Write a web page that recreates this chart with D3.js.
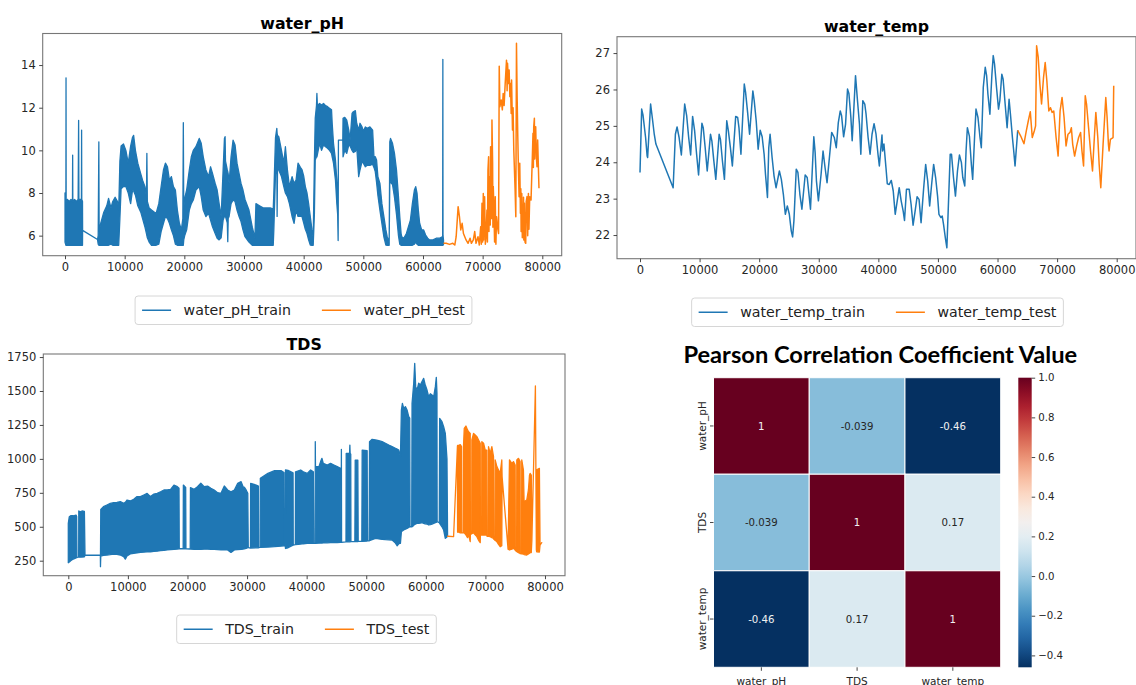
<!DOCTYPE html>
<html>
<head>
<meta charset="utf-8">
<script src="https://cdn.jsdelivr.net/npm/d3@7"></script>
<style>
  body { margin: 0; background: #fff; }
  svg { display: block; }
</style>
</head>
<body>
<svg id="chart" width="1136" height="685"></svg>
<script>
// ---------- data ----------
const xTicks = [0, 10000, 20000, 30000, 40000, 50000, 60000, 70000, 80000];
const phTicks = [6, 8, 10, 12, 14];
const tempTicks = [22, 23, 24, 25, 26, 27];
const tdsTicks = [250, 500, 750, 1000, 1250, 1500, 1750];

// dense series stored as [index, low, high] envelopes of the oscillating signal
const phTrainBand = [
  [0,5.7,8.0],[150,5.55,7.6],[170,5.55,13.4],[190,5.55,7.6],[400,5.55,7.7],[700,5.55,7.6],[1000,5.55,7.7],
  [1250,5.55,7.6],[1280,5.55,9.78],[1310,5.55,7.6],[1600,5.55,7.7],[1900,5.55,7.6],[2200,5.55,7.7],
  [2280,5.55,11.4],[2330,5.55,7.7],[2500,5.55,7.7],[2750,5.55,7.7],[2780,5.55,10.95],[2810,5.55,7.7],
  [2930,5.55,7.6],[2950,6.25,6.25],[5450,5.82,5.82],[5560,5.6,6.0],[5670,5.55,10.4],[5720,5.55,6.2],
  [6000,5.55,6.6],[6500,5.55,7.1],[7000,5.55,7.4],[7300,5.55,7.75],[7700,5.6,7.3],[8000,5.55,7.6],
  [8400,5.55,7.8],[8800,5.55,7.6],[9000,5.55,7.2],[9200,6.8,9.5],[9400,8.2,10.2],[9800,8.3,10.3],
  [10200,8.3,10.0],[10600,8.0,9.4],[11000,7.5,10.2],[11300,8.1,10.6],[11500,8.1,10.7],[11800,7.9,10.0],
  [12200,7.4,9.4],[12700,7.1,8.9],[13000,6.8,8.6],[13400,6.4,8.3],[13650,6.1,7.8],[13720,6.0,9.86],
  [13800,5.9,7.6],[14100,5.7,7.3],[14500,5.55,7.2],[15000,5.55,7.1],[15280,5.55,7.05],[15720,5.6,7.5],
  [16110,6.19,8.3],[16500,6.58,9.08],[16830,6.9,9.4],[17170,6.8,9.23],[17500,6.58,8.6],[17830,6.27,8.77],
  [18170,6.0,8.3],[18500,5.6,8.14],[18830,5.55,7.2],[19170,5.55,6.58],[19500,5.55,6.27],[19750,5.55,6.8],
  [19830,5.55,11.3],[19900,5.8,7.3],[20060,6.0,7.75],[20390,6.27,8.14],[20830,7.2,9.08],[21170,7.5,9.7],
  [21500,7.67,10.0],[21940,8.14,10.17],[22500,8.3,10.56],[22830,7.83,10.33],[23170,7.2,9.7],[23610,6.9,9.08],
  [24060,7.05,8.77],[24390,6.73,9.23],[24720,6.42,8.92],[25170,6.1,8.45],[25500,5.88,8.14],[25830,5.8,7.5],
  [26170,5.9,6.9],[26500,6.73,9.08],[26720,6.9,10.56],[26830,6.9,10.64],[26900,6.9,9.5],[27200,6.6,9.08],
  [27280,5.72,9.0],[27350,6.8,8.9],[27500,6.9,8.45],[27830,7.5,9.7],[28170,7.67,10.48],[28500,7.6,10.25],
  [28830,7.2,9.4],[29170,6.9,8.92],[29500,6.66,8.45],[29830,6.27,8.14],[30170,5.95,7.7],[30830,5.7,7.2],
  [31390,5.55,6.4],[31830,5.55,5.9],[32000,5.55,7.5],[32600,5.55,7.4],[33200,5.55,7.3],[33800,5.55,7.3],
  [34400,5.55,7.3],[34900,5.55,7.25],[35000,6.27,8.0],[35280,8.9,10.6],[35500,9.4,11.03],[35550,6.9,10.8],
  [35620,9.2,10.7],[35830,9.08,10.64],[36280,8.77,10.0],[36670,8.3,9.4],[36940,8.0,10.17],[37280,7.83,9.08],
  [37610,7.5,8.3],[38060,6.9,8.77],[38390,6.58,8.45],[38720,7.2,8.6],[39060,6.9,9.4],[39450,6.9,9.2],
  [39720,6.9,9.1],[40000,6.6,8.8],[40280,6.3,8.3],[40560,6.1,8.0],[40830,5.8,7.5],[41110,5.56,6.9],
  [41390,5.55,6.27],[41600,5.55,5.9],[41800,7.0,9.5],[41940,9.55,11.5],[42150,9.7,12.1],[42220,9.7,12.67],
  [42300,9.8,12.1],[42670,10.33,12.2],[43000,10.0,12.13],[43330,10.25,12.2],[43670,10.17,12.1],
  [44000,10.1,12.05],[44330,10.0,11.97],[44670,9.86,11.9],[44780,9.7,11.27],[45000,9.4,10.33],
  [45330,8.6,9.55],[45560,7.5,8.6],[45700,7.0,7.6],[45780,5.77,7.4],[45830,10.48,10.48],[46560,10.48,10.48],
  [46600,9.7,11.5],[46890,10.0,11.55],[47220,9.86,11.42],[47560,10.25,10.95],[47780,10.2,10.48],
  [48110,10.0,11.73],[48330,9.9,11.81],[48670,9.95,11.86],[48890,10.17,11.27],[49220,8.77,10.95],
  [49440,9.08,11.27],[49780,9.47,11.1],[50000,9.4,10.9],[50330,9.23,11.1],[50670,9.3,11.03],
  [51110,9.3,11.1],[51560,9.35,10.95],[51780,9.2,9.7],[52000,9.0,9.7],[52220,8.5,9.55],[52440,7.9,8.77],
  [52780,7.2,8.45],[53110,6.58,7.5],[53440,5.95,6.9],[53780,5.56,6.27],[54000,5.55,5.95],[54330,5.55,5.7],
  [54440,8.6,10.4],[54560,8.5,10.56],[54890,8.4,10.33],[55220,7.8,9.86],[55560,7.0,9.08],[55890,6.0,7.83],
  [56110,5.6,6.9],[56330,5.55,6.1],[56440,5.55,5.95],[56780,5.55,5.88],[57220,5.55,6.1],[57560,5.55,6.42],
  [57890,5.55,6.73],[58220,5.55,7.5],[58560,5.6,8.14],[58780,5.7,8.3],[59000,5.6,8.0],[59220,5.55,7.2],
  [59440,5.55,6.58],[59780,5.55,6.27],[60110,5.55,6.27],[60440,5.55,6.03],[60780,5.55,5.88],
  [61110,5.55,5.8],[61670,5.55,5.8],[62220,5.55,5.88],[62780,5.55,5.88],[63220,5.55,5.95],
  [63300,5.55,5.9],[63330,5.55,14.27],[63360,5.55,6.0],[63440,5.6,5.8]
];

const phTest = [
  [63440,5.64],[63890,5.64],[64440,5.59],[65000,5.64],[65330,5.56],[65560,5.95],[65890,7.36],[66110,6.89],
  [66330,6.27],[66560,6.58],[66780,6.1],[67000,5.95],[67220,5.8],[67560,5.64],[67890,5.88],[68110,5.64],
  [68440,5.8],[68670,6.19],[68890,5.64],[69220,5.95],[69440,5.56],[69670,6.42],[69780,5.6],[69890,7.52],
  [70000,5.7],[70110,7.98],[70170,5.8],[70220,6.9],[70330,7.83],[70450,5.6],[70560,5.95],[70720,7.2],
  [70800,5.7],[70890,9.08],[71000,9.7],[71060,6.2],[71110,8.3],[71220,8.77],[71280,6.5],[71330,10.17],
  [71440,9.08],[71500,6.8],[71560,11.42],[71670,9.39],[71720,6.4],[71780,8.3],[71890,7.2],[72000,5.7],
  [72110,7.83],[72220,5.6],[72330,6.89],[72560,6.27],[72670,6.1],[72780,13.95],[72890,12.05],[73110,12.36],
  [73300,11.9],[73440,12.67],[73600,12.1],[73780,13.14],[74000,14.23],[74100,12.8],[74170,14.08],
  [74330,13.14],[74440,13.77],[74560,12.52],[74670,13.14],[74780,11.73],[74850,13.3],[75000,10.95],
  [75100,12.0],[75220,10.02],[75330,9.08],[75440,8.14],[75560,6.89],[75670,15.02],[75780,12.52],
  [75890,10.64],[76000,9.08],[76110,7.83],[76220,9.39],[76330,7.05],[76400,8.2],[76450,6.2],[76560,7.98],
  [76650,5.9],[76780,6.27],[76850,7.8],[76900,5.8],[77000,7.52],[77100,5.7],[77220,5.64],[77300,7.6],
  [77440,7.83],[77550,6.0],[77670,7.98],[77760,6.3],[77890,7.83],[78110,7.67],[78330,9.7],[78440,10.8],
  [78500,9.2],[78560,11.11],[78670,11.5],[78720,9.6],[78780,10.95],[78890,11.11],[79000,9.7],[79110,9.23],
  [79220,10.48],[79440,8.22]
];

const tempTrain = [
  [0,23.72],[280,25.46],[500,25.3],[940,24.68],[1200,24.17],[1280,24.13],[1780,25.6],[2060,25.23],
  [2390,24.77],[2670,24.5],[5560,23.3],[5940,24.77],[6220,24.97],[6560,24.68],[6940,24.2],[7500,25.6],
  [7830,25.28],[8170,24.68],[8500,24.2],[8830,25.26],[9170,24.86],[9500,24.22],[9830,23.65],[10390,25.07],
  [10610,24.95],[10940,24.4],[11280,23.76],[11830,24.77],[12060,24.59],[12390,24.04],[12720,23.53],
  [13280,24.77],[13500,24.63],[13830,24.04],[14170,23.53],[14560,25.14],[14830,24.86],[15170,24.4],
  [15500,23.9],[16060,25.26],[16390,25.23],[16610,24.95],[16940,24.22],[17500,26.15],[17720,25.92],
  [18060,25.37],[18390,24.77],[18940,25.96],[19170,25.69],[19500,25.14],[19830,24.36],[20170,24.88],
  [20500,24.7],[20830,24.22],[21060,23.67],[21390,23.03],[21610,24.4],[21830,24.77],[22170,24.13],
  [22500,23.62],[22830,23.3],[23390,23.76],[23720,23.53],[24060,23.12],[24390,22.57],[24720,22.8],
  [25060,22.57],[25390,22.11],[25610,21.95],[25830,22.39],[26220,23.81],[26500,23.72],[26830,23.12],
  [27170,22.71],[27720,23.65],[28060,23.58],[28390,23.07],[28610,22.71],[29170,24.7],[29390,24.27],
  [29610,23.49],[29940,22.94],[30390,23.67],[30720,24.31],[31060,23.85],[31390,23.44],[31940,24.4],
  [32170,24.82],[32610,24.68],[32940,24.4],[33280,25.09],[33610,25.41],[33830,25.28],[34170,24.7],
  [34500,25.05],[34830,26.01],[35060,25.89],[35390,25.23],[35610,24.59],[36170,26.38],[36500,25.69],
  [36830,25.05],[37060,24.22],[37390,25.69],[37720,25.6],[37940,25.32],[38280,24.68],[38610,24.22],
  [38940,24.77],[39280,25.06],[39610,24.77],[39940,24.22],[40170,23.9],[40610,24.75],[40720,24.31],
  [40940,24.5],[41280,23.85],[41500,23.41],[41830,23.39],[42170,23.5],[42500,23.21],[42830,22.57],
  [43170,22.94],[43500,23.3],[43830,22.94],[44170,22.66],[44390,22.4],[44720,23.26],[45170,23.26],
  [45500,22.84],[45830,22.27],[46170,22.66],[46500,23.05],[46830,22.98],[47170,22.34],[47610,23.3],
  [47940,23.94],[48280,23.49],[48610,22.8],[48940,23.39],[49280,23.94],[49610,23.58],[49940,23.07],
  [50170,22.57],[50500,22.48],[50720,22.52],[50940,22.29],[51280,21.88],[51500,21.65],[51720,22.66],
  [52060,24.22],[52280,24.22],[52610,23.58],[52940,23.07],[53280,23.76],[53610,24.2],[53940,23.99],
  [54170,23.58],[54500,23.35],[54720,24.31],[54940,24.95],[55280,24.72],[55610,23.94],[55830,23.53],
  [56170,24.77],[56390,25.46],[56720,25.23],[57060,24.68],[57280,24.4],[57610,26.06],[57940,26.61],
  [58170,26.38],[58390,25.87],[58720,25.32],[59060,26.42],[59280,26.93],[59500,26.7],[59830,26.06],
  [60170,25.46],[60390,25.69],[60720,26.42],[60940,26.28],[61280,25.6],[61610,24.95],[61940,25.73],
  [62170,25.32],[62500,24.68],[62720,24.31],[62940,23.9],[63170,24.4],[63390,24.88]
];

const tempTest = [
  [63390,24.88],[63890,24.72],[64440,24.51],[64830,24.86],[65170,25.14],[65500,25.39],[65830,24.68],
  [66170,24.86],[66390,25.0],[66560,27.2],[66830,26.88],[67110,26.15],[67390,25.6],[67720,26.33],
  [68000,26.74],[68280,26.24],[68610,25.41],[68890,25.5],[69170,25.37],[69440,25.41],[69830,24.68],
  [70170,24.17],[70500,25.41],[70830,25.78],[71170,25.23],[71500,24.45],[71830,24.77],[72170,24.82],
  [72390,24.95],[72610,24.5],[72940,24.17],[73280,24.45],[73610,24.68],[73940,24.82],[74170,24.31],
  [74440,23.9],[74720,25.83],[74940,25.6],[75280,24.95],[75610,24.31],[75940,23.76],[76280,24.77],
  [76500,25.37],[76830,24.68],[77060,23.94],[77330,23.3],[77720,24.5],[78170,25.78],[78390,25.23],
  [78610,24.5],[78720,24.31],[78940,24.63],[79390,24.68],[79500,26.1]
];

const tdsTrainBand = [
  [0,235,525],[170,240,574],[400,250,581],[850,262,581],[1300,270,586],[1400,272,575],[1450,274,274],
  [1740,276,276],[1760,276,616],[2000,276,610],[2300,277,616],[2700,278,614],[2800,290,290],[5380,290,290],
  [5400,206,290],[5450,284,628],[5900,290,648],[6480,292,660],[7040,295,672],[7600,299,677],[8160,296,680],
  [8730,292,685],[9290,280,672],[9570,262,680],[9850,285,697],[10400,300,690],[10980,304,702],
  [11540,307,722],[12100,311,722],[12670,313,734],[13230,316,746],[13800,316,722],[14360,318,741],
  [14920,320,746],[15480,324,758],[16050,326,771],[16600,329,771],[17170,331,776],[17730,333,807],
  [18300,336,795],[18580,338,783],[18620,338,338],[19280,338,338],[19310,338,807],[19700,338,790],
  [19740,338,338],[20460,336,336],[20500,336,788],[21110,334,776],[21680,334,795],[22240,333,820],
  [22800,335,795],[23370,335,800],[23930,334,783],[24490,333,771],[25050,331,751],[25620,329,746],
  [26180,329,800],[26740,329,771],[27300,311,758],[27870,329,771],[28430,331,820],[29000,333,832],
  [29330,335,795],[29560,338,790],[29840,340,771],[30120,346,746],[30200,346,346],[30570,343,343],
  [30600,343,820],[31530,345,807],[31900,345,800],[31930,347,347],[32200,348,348],[32230,348,857],
  [33500,350,893],[34620,353,913],[35750,358,913],[36200,360,900],[36230,360,360],[36420,355,355],
  [36450,340,918],[36880,345,915],[37720,365,898],[37750,365,365],[38100,368,368],[38130,368,905],
  [39000,373,918],[39440,375,905],[40100,377,893],[40670,378,918],[41120,378,905],[41200,378,378],
  [41430,378,378],[41450,378,1127],[41480,378,943],[42065,379,943],[42344,380,980],[42567,380,1004],
  [42790,381,967],[43460,382,955],[44018,383,967],[44576,383,955],[45134,384,943],[45692,385,930],
  [45780,385,385],[45830,385,1070],[45860,385,385],[46600,388,388],[46640,388,1040],[47200,389,1040],
  [47254,389,1102],[47300,389,1040],[47400,390,1035],[47430,390,390],[48090,390,390],[48150,391,990],
  [48590,391,990],[48650,392,392],[49260,392,392],[49320,392,1065],[50150,395,1060],[50210,396,396],
  [50490,396,396],[50550,398,1127],[50990,405,1144],[51550,415,1139],[52110,410,1134],[52670,407,1127],
  [53220,405,1115],[53780,404,1102],[54340,402,1090],[54900,380,1078],[55180,360,1072],[55460,375,1065],
  [55740,378,1016],[55900,464,1360],[56070,470,1409],[56290,476,1372],[56570,482,1385],[56850,488,1360],
  [57130,495,1311],[57300,500,1300],[57350,500,500],[57630,500,500],[57690,500,1409],[57970,510,1557],
  [58135,518,1704],[58300,520,1532],[58530,525,1507],[58800,525,1557],[59080,527,1544],[59360,530,1569],
  [59640,525,1593],[59870,522,1550],[60200,520,1507],[60480,513,1458],[60760,516,1480],[61040,520,1470],
  [61320,525,1458],[61600,530,1532],[61760,532,1601],[61870,537,1483],[61900,537,537],[62260,530,530],
  [62320,525,1299],[62710,500,1274],[62990,476,1237],[63270,415,1188],[63550,425,1000],[63650,430,430]
];

const tdsTestBand = [
  [63650,430,430],[64660,427,427],[65300,1090,1090],[65330,460,1100],[65560,460,1100],[65780,455,1105],
  [66000,455,1090],[66030,455,455],[66300,456,456],[66330,456,1100],[66450,456,1225],[66730,440,1242],
  [67000,420,1213],[67180,440,1200],[67450,390,1188],[67480,440,440],[67700,450,450],[67730,450,1139],
  [68010,456,1188],[68290,440,1176],[68570,427,1164],[68850,400,1139],[69130,383,1115],[69160,439,439],
  [69370,439,439],[69400,439,1127],[69690,439,1115],[69970,439,1065],[70240,439,1065],[70270,430,430],
  [70490,430,430],[70520,430,1090],[70800,427,1041],[71080,420,1090],[71360,415,1016],[71390,410,410],
  [71610,400,400],[71640,400,992],[71920,390,943],[72200,370,918],[72480,353,893],[72750,360,992],
  [72800,870,870],[73800,335,335],[74040,329,992],[74430,335,967],[74710,341,980],[74990,330,955],
  [75020,325,325],[75240,318,318],[75270,316,992],[75550,310,1004],[75820,304,980],[75850,302,302],
  [76070,300,300],[76100,300,992],[76380,299,918],[76490,295,685],[76940,292,697],[77220,300,771],
  [77400,305,880],[77500,309,893],[77700,310,880],[77800,400,400],[78390,1537,1537],[78550,330,330],
  [78600,316,920],[79060,314,930],[79170,365,365],[79450,383,383]
];

const corrLabels = ["water_pH", "TDS", "water_temp"];
const corrValues = [
  [1, -0.039, -0.46],
  [-0.039, 1, 0.17],
  [-0.46, 0.17, 1]
];
const cbarTicks = [-0.4, -0.2, 0.0, 0.2, 0.4, 0.6, 0.8, 1.0];

// ---------- drawing ----------
const FONT = "DejaVu Sans";
const BLUE = "#1f77b4", ORANGE = "#ff7f0e";
const svg = d3.select("#chart");
const defs = svg.append("defs");

function legend(cx, top, items) {
  const fs = 14.2, pad = 7, handle = 29, gap = 12.5, colSpace = 31, h = 28.5;
  const g = svg.append("g");
  const box = g.append("rect");
  const labels = items.map(it => g.append("text").text(it.label)
    .attr("font-family", FONT).attr("font-size", fs).attr("fill", "#222"));
  const widths = labels.map(t => t.node().getComputedTextLength());
  const total = pad * 2 + d3.sum(widths) + items.length * (handle + gap) + colSpace * (items.length - 1);
  let cur = cx - total / 2;
  box.attr("x", cur).attr("y", top).attr("width", total).attr("height", h)
    .attr("rx", 3).attr("fill", "#fff").attr("stroke", "#d6d6d6").attr("stroke-width", 1);
  cur += pad;
  const mid = top + h / 2;
  items.forEach((it, i) => {
    g.append("line").attr("x1", cur).attr("x2", cur + handle).attr("y1", mid).attr("y2", mid)
      .attr("stroke", it.color).attr("stroke-width", 1.5);
    cur += handle + gap;
    labels[i].attr("x", cur).attr("y", mid).attr("dy", "0.36em");
    cur += widths[i] + colSpace;
  });
}

function seriesPanel(cfg) {
  const f = cfg.frame;
  const x = d3.scaleLinear().domain(cfg.xDomain).range([f.x0, f.x1]);
  const y = d3.scaleLinear().domain(cfg.yDomain).range([f.y1, f.y0]);
  const g = svg.append("g");
  defs.append("clipPath").attr("id", "clip-" + cfg.id).append("rect")
    .attr("x", f.x0).attr("y", f.y0).attr("width", f.x1 - f.x0).attr("height", f.y1 - f.y0);
  const plot = g.append("g").attr("clip-path", `url(#clip-${cfg.id})`);

  const area = d3.area().x(d => x(d[0])).y0(d => y(d[1])).y1(d => y(d[2]));
  const line = d3.line().x(d => x(d[0])).y(d => y(d[1]));
  cfg.series.forEach(s => {
    if (s.band) {
      plot.append("path").datum(s.band).attr("d", area)
        .attr("fill", s.color).attr("stroke", s.color).attr("stroke-width", 1.3)
        .attr("stroke-linejoin", "round");
    } else {
      plot.append("path").datum(s.line).attr("d", line)
        .attr("fill", "none").attr("stroke", s.color).attr("stroke-width", 1.5)
        .attr("stroke-linejoin", "round");
    }
  });

  g.append("rect").attr("x", f.x0).attr("y", f.y0).attr("width", f.x1 - f.x0).attr("height", f.y1 - f.y0)
    .attr("fill", "none").attr("stroke", "#777").attr("stroke-width", 1.1);

  const xa = g.append("g").attr("transform", `translate(0,${f.y1})`)
    .call(d3.axisBottom(x).tickValues(xTicks).tickFormat(d3.format("d")).tickSize(3.5).tickPadding(3.5));
  const ya = g.append("g").attr("transform", `translate(${f.x0},0)`)
    .call(d3.axisLeft(y).tickValues(cfg.yTicks).tickFormat(d3.format("d")).tickSize(3.5).tickPadding(3.5));
  [xa, ya].forEach(a => {
    a.attr("font-family", FONT).attr("font-size", 11.5);
    a.select(".domain").remove();
    a.selectAll(".tick line").attr("stroke", "#333").attr("stroke-width", 0.9);
    a.selectAll(".tick text").attr("fill", "#262626");
  });

  svg.append("text").text(cfg.title).attr("x", (f.x0 + f.x1) / 2).attr("y", cfg.titleY)
    .attr("text-anchor", "middle").attr("font-family", FONT).attr("font-weight", "bold")
    .attr("font-size", 15.8).attr("fill", "#000");

  legend(cfg.legend.cx, cfg.legend.top, cfg.series.map(s => ({ label: s.name, color: s.color })));
}

seriesPanel({
  id: "ph", title: "water_pH", titleY: 29,
  frame: { x0: 42.7, x1: 561.7, y0: 33.5, y1: 255.7 },
  xDomain: [-3740, 83250], yDomain: [5.06, 15.48], yTicks: phTicks,
  series: [
    { name: "water_pH_train", color: BLUE, band: phTrainBand },
    { name: "water_pH_test", color: ORANGE, line: phTest }
  ],
  legend: { cx: 303.5, top: 296 }
});

seriesPanel({
  id: "temp", title: "water_temp", titleY: 31.5,
  frame: { x0: 617, x1: 1136, y0: 36.7, y1: 258.7 },
  xDomain: [-3860, 83240], yDomain: [21.35, 27.45], yTicks: tempTicks,
  series: [
    { name: "water_temp_train", color: BLUE, line: tempTrain },
    { name: "water_temp_test", color: ORANGE, line: tempTest }
  ],
  legend: { cx: 877.5, top: 298 }
});

seriesPanel({
  id: "tds", title: "TDS", titleY: 349.5,
  frame: { x0: 43.3, x1: 565, y0: 354, y1: 575.7 },
  xDomain: [-4196, 83357], yDomain: [139.5, 1772.5], yTicks: tdsTicks,
  series: [
    { name: "TDS_train", color: BLUE, band: tdsTrainBand },
    { name: "TDS_test", color: ORANGE, band: tdsTestBand }
  ],
  legend: { cx: 306.5, top: 615 }
});

// ---------- correlation heatmap ----------
(function heatmap() {
  const left = 713.5, right = 1000.7, top = 377.7, bottom = 667.3;
  const hx = d3.scaleBand().domain(corrLabels).range([left, right]);
  const hy = d3.scaleBand().domain(corrLabels).range([top, bottom]);
  const flat = corrValues.flat();
  const vmin = d3.min(flat), vmax = d3.max(flat);
  const color = d3.scaleSequential(t => d3.interpolateRdBu(1 - t)).domain([vmin, vmax]);
  const g = svg.append("g");

  const cells = [];
  corrLabels.forEach((r, i) => corrLabels.forEach((c, j) => cells.push({ r, c, v: corrValues[i][j] })));

  g.selectAll("rect.cell").data(cells).join("rect").attr("class", "cell")
    .attr("x", d => hx(d.c)).attr("y", d => hy(d.r))
    .attr("width", hx.bandwidth()).attr("height", hy.bandwidth())
    .attr("fill", d => color(d.v)).attr("stroke", "#fff").attr("stroke-width", 1);

  const lum = c => {
    const rgb = d3.rgb(c);
    const f = u => { u /= 255; return u <= 0.03928 ? u / 12.92 : Math.pow((u + 0.055) / 1.055, 2.4); };
    return 0.2126 * f(rgb.r) + 0.7152 * f(rgb.g) + 0.0722 * f(rgb.b);
  };
  g.selectAll("text.annot").data(cells).join("text").attr("class", "annot")
    .attr("x", d => hx(d.c) + hx.bandwidth() / 2).attr("y", d => hy(d.r) + hy.bandwidth() / 2)
    .attr("dy", "0.36em").attr("text-anchor", "middle")
    .attr("font-family", FONT).attr("font-size", 10.2)
    .attr("fill", d => lum(color(d.v)) > 0.408 ? "#262626" : "#f2f2f2")
    .text(d => String(d.v));

  // row labels
  corrLabels.forEach(r => {
    const cy = hy(r) + hy.bandwidth() / 2;
    g.append("line").attr("x1", left - 3.5).attr("x2", left).attr("y1", cy).attr("y2", cy)
      .attr("stroke", "#333").attr("stroke-width", 0.9);
    g.append("text").text(r).attr("transform", `translate(${left - 8},${cy}) rotate(-90)`)
      .attr("text-anchor", "middle").attr("font-family", FONT).attr("font-size", 10.5).attr("fill", "#262626");
  });
  // column labels
  corrLabels.forEach(c => {
    const cx = hx(c) + hx.bandwidth() / 2;
    g.append("line").attr("x1", cx).attr("x2", cx).attr("y1", bottom).attr("y2", bottom + 3.5)
      .attr("stroke", "#333").attr("stroke-width", 0.9);
    g.append("text").text(c).attr("x", cx).attr("y", 684.5).attr("text-anchor", "middle")
      .attr("font-family", FONT).attr("font-size", 10.5).attr("fill", "#262626");
  });

  // colour bar
  const cbX = 1018.3, cbW = 13.4;
  const cb = d3.scaleLinear().domain([vmin, vmax]).range([bottom, top]);
  const grad = defs.append("linearGradient").attr("id", "cbar").attr("x1", 0).attr("y1", 1).attr("x2", 0).attr("y2", 0);
  d3.range(0, 1.0001, 0.05).forEach(t => {
    grad.append("stop").attr("offset", t).attr("stop-color", color(vmin + t * (vmax - vmin)));
  });
  g.append("rect").attr("x", cbX).attr("y", top).attr("width", cbW).attr("height", bottom - top)
    .attr("fill", "url(#cbar)");
  const ca = g.append("g").attr("transform", `translate(${cbX + cbW},0)`)
    .call(d3.axisRight(cb).tickValues(cbarTicks).tickFormat(d3.format(".1f")).tickSize(3.5).tickPadding(3));
  ca.attr("font-family", FONT).attr("font-size", 10.2);
  ca.select(".domain").remove();
  ca.selectAll(".tick line").attr("stroke", "#333").attr("stroke-width", 0.9);
  ca.selectAll(".tick text").attr("fill", "#262626");

  // title
  const title = svg.append("text").text("Pearson Correlation Coefficient Value")
    .attr("x", 880.3).attr("y", 363).attr("text-anchor", "middle")
    .attr("font-family", "Lato").attr("font-weight", "bold").attr("font-size", 22).attr("fill", "#000");
  const w = title.node().getComputedTextLength();
  title.attr("font-size", 22 * 394 / w);
})();
</script>
</body>
</html>
